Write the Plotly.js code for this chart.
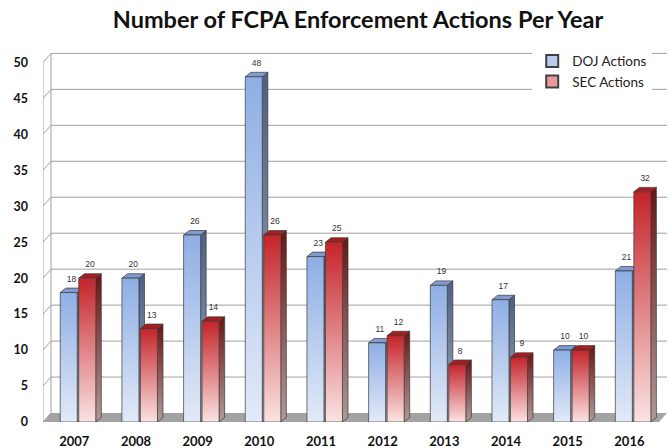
<!DOCTYPE html>
<html><head><meta charset="utf-8">
<script src="https://cdn.plot.ly/plotly-3.0.1.min.js"></script>
<style>html,body{margin:0;padding:0;background:#fff}#chart{width:668px;height:448px}</style>
</head><body><div id="chart"></div>
<script>
const years = ["2007","2008","2009","2010","2011","2012","2013","2014","2015","2016"];
const dojActions = [18,20,26,48,23,11,19,17,10,21];
const secActions = [20,13,14,26,25,12,8,9,10,32];
const yTicks = [0,5,10,15,20,25,30,35,40,45,50];

const BW = 0.276, GAP = 0.012, DX = 0.09, DY = 0.62;
const WX = 0.13, WY = 1.25;
const X0 = -0.5675, X1 = 9.55;

const series = [
  {name:"DOJ Actions", vals:dojActions, off:-1,
   front:["#e3eaf8","#8eaee4"], side:["#a4abbb","#4d5f84"], top:"#7f9bd0", swatch:"#b9cbee"},
  {name:"SEC Actions", vals:secActions, off:1,
   front:["#fbe2e2","#c4242a"], side:["#b09a9a","#6c1414"], top:"#a81e1e", swatch:"#e99a9a"}
];

const traces = [];
const lineStyle = {color:"#3a3a3a", width:0.7};
years.forEach((yr, i) => {
  series.forEach((s, si) => {
    const h = s.vals[i];
    const x0 = s.off < 0 ? i - GAP - BW : i + GAP;
    const x1 = x0 + BW;
    traces.push({type:"scatter", mode:"lines", fill:"toself", hoverinfo:"skip", showlegend:false,
      x:[x1, x1+DX, x1+DX, x1, x1], y:[0, DY, h+DY, h, 0], line:lineStyle,
      fillgradient:{type:"vertical", start:0, stop:h+DY, colorscale:[[0,s.side[0]],[1,s.side[1]]]}});
    traces.push({type:"scatter", mode:"lines", fill:"toself", hoverinfo:"skip", showlegend:false,
      x:[x0, x1, x1+DX, x0+DX, x0], y:[h, h, h+DY, h+DY, h], line:lineStyle, fillcolor:s.top});
    traces.push({type:"scatter", mode:"lines", fill:"toself", hoverinfo:"skip", showlegend:false,
      x:[x0, x1, x1, x0, x0], y:[0, 0, h, h, 0], line:lineStyle,
      fillgradient:{type:"vertical", start:0, stop:h, colorscale:[[0,s.front[0]],[1,s.front[1]]]}});
  });
});
series.forEach(s => {
  traces.push({type:"scatter", mode:"text", hoverinfo:"skip", showlegend:false,
    x:years.map((_, i) => (s.off < 0 ? i - GAP - BW/2 : i + GAP + BW/2) + DX/2),
    y:s.vals.map(v => v + DY + 0.6),
    text:s.vals.map(String), textposition:"top center",
    textfont:{family:"Liberation Sans, Arial", size:8.5, color:"#333"}, cliponaxis:false});
});
series.forEach(s => {
  traces.push({type:"scatter", mode:"markers", name:s.name, x:[null], y:[null], hoverinfo:"skip",
    marker:{symbol:"square", size:9, color:s.swatch, line:{color:"#404040", width:1}}});
});

const shapes = [];
shapes.push({type:"path", xref:"x", yref:"y", layer:"below",
  path:`M ${X0},0 L ${X1-WX},0 L ${X1},${WY} L ${X0+WX},${WY} Z`,
  fillcolor:"#a3a3a3", line:{width:0}});
yTicks.forEach(v => {
  if (v > 0) {
    shapes.push({type:"line", xref:"x", yref:"y", layer:"below",
      x0:X0+WX, x1:X1, y0:v+WY, y1:v+WY, line:{color:"#a0a0a0", width:1}});
  }
  shapes.push({type:"line", xref:"x", yref:"y", layer:"below",
    x0:X0, x1:X0+WX, y0:v, y1:v+WY, line:{color:"#a0a0a0", width:1}});
});
shapes.push({type:"line", xref:"x", yref:"y", layer:"below",
  x0:X0+WX, x1:X0+WX, y0:WY, y1:50+WY, line:{color:"#a0a0a0", width:1}});
shapes.push({type:"line", xref:"x", yref:"y", layer:"below",
  x0:X0, x1:X0, y0:0, y1:50, line:{color:"#a0a0a0", width:1}});

const layout = {
  width:668, height:448,
  margin:{l:43, r:1, t:47.6, b:26},
  paper_bgcolor:"#fff", plot_bgcolor:"rgba(0,0,0,0)",
  title:{text:"Number of FCPA Enforcement Actions Per Year",
    font:{family:"Lato, Open Sans, sans-serif", size:23.5, weight:"bold", color:"#111"},
    x:0.536, xref:"container", xanchor:"center", y:0.955, yref:"container", yanchor:"middle"},
  xaxis:{range:[X0, X1], tickvals:years.map((_, i) => i - 0.06), ticktext:years,
    showgrid:false, zeroline:false, showline:false, ticks:"", ticklabelstandoff:10,
    tickfont:{family:"Lato, sans-serif", size:13, weight:"bold", color:"#111"}, fixedrange:true},
  yaxis:{range:[0, 52], tickvals:yTicks, ticktext:yTicks.map(String),
    showgrid:false, zeroline:false, showline:false, ticks:"", ticklabelstandoff:14,
    tickfont:{family:"Lato, sans-serif", size:12.5, weight:"bold", color:"#111"}, fixedrange:true},
  legend:{x:0.784, y:1.006, xref:"paper", yref:"paper", xanchor:"left", yanchor:"top",
    bgcolor:"#fff", borderwidth:0, tracegroupgap:0, itemwidth:30, itemsizing:"constant",
    font:{family:"Lato, sans-serif", size:13.5, color:"#222"}},
  shapes:shapes,
  showlegend:true
};
Plotly.newPlot("chart", traces, layout, {displayModeBar:false, staticPlot:true});
</script></body></html>
